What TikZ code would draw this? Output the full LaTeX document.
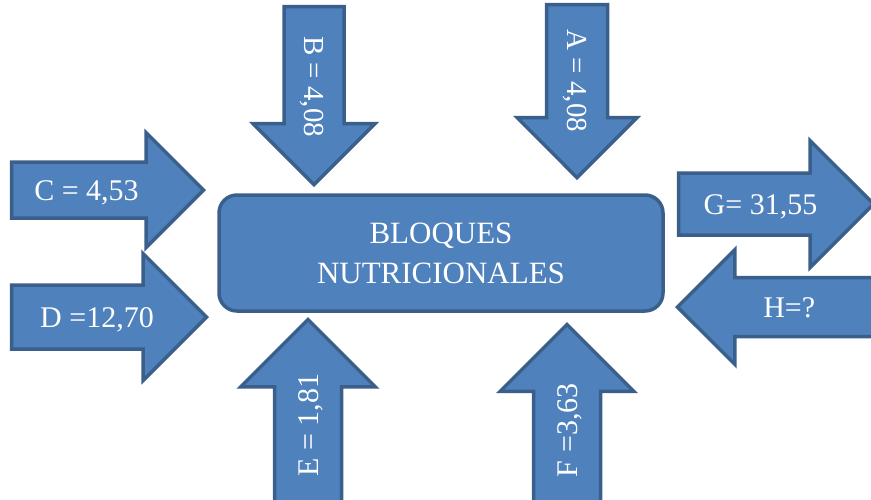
\documentclass[tikz,border=0pt]{standalone}
\usepackage{fontspec}
\setmainfont{Liberation Serif}
\usetikzlibrary{shapes.arrows}
\definecolor{azulrelleno}{HTML}{4F81BD}
\definecolor{azulborde}{HTML}{3A5F8B}

\begin{document}
\begin{tikzpicture}[
  x=1pt, y=-1pt,
  flecha/.style={single arrow, draw=azulborde, fill=azulrelleno, line width=3.5pt, text=white, inner sep=0pt, single arrow tip angle=90, font=\fontsize{30}{36}\selectfont},
  bloque/.style={rectangle, rounded corners=18pt, draw=azulborde, fill=azulrelleno, line width=3.5pt, text=white, minimum width=444pt, minimum height=116pt, align=center, font=\fontsize{31}{40}\selectfont}
]
\clip (0,0) rectangle (871,499);

% Centro
\node[bloque] (bloques) at (441,253) {BLOQUES\\NUTRICIONALES};

% Entradas izquierda
\node[flecha, minimum height=192pt, text height=36.25pt, text depth=16.25pt, single arrow head extend=29.5pt, anchor=tip] (c) at (206,190) {C = 4,53\hspace*{14pt}};
\node[flecha, minimum height=195pt, text height=40.25pt, text depth=20.25pt, single arrow head extend=31.5pt, anchor=tip] (d) at (209,317) {\hspace{8pt}D =12,70};

% Entradas arriba
\node[flecha, rotate=-90, minimum height=178pt, text height=38.25pt, text depth=18.25pt, single arrow head extend=31pt, anchor=tip, font=\fontsize{29}{36}\selectfont] (b) at (314,187) {\hspace{12pt}B = 4,08};
\node[flecha, rotate=-90, minimum height=173pt, text height=38.75pt, text depth=18.75pt, single arrow head extend=29.5pt, anchor=tip, font=\fontsize{29}{36}\selectfont] (a) at (577,180) {\hspace{10pt}A = 4,08};

% Entradas abajo
\node[flecha, rotate=90, minimum height=200pt, text height=41.75pt, text depth=21.75pt, single arrow head extend=34pt, anchor=tip] (e) at (308,317) {\hspace{22pt}E = 1,81};
\node[flecha, rotate=90, minimum height=200pt, text height=41.75pt, text depth=21.75pt, single arrow head extend=33.5pt, anchor=tip] (f) at (567,322) {\hspace{22pt}F =3,63};

% Salidas derecha
\node[flecha, minimum height=195pt, text height=39.25pt, text depth=19.25pt, single arrow head extend=32.5pt, anchor=tip] (g) at (876,204) {G= 31,55};
\node[flecha, shape border rotate=180, minimum height=220pt, text height=37.75pt, text depth=17.75pt, single arrow head extend=28pt, anchor=tip] (h) at (675,307) {H=?\hspace*{26pt}};
\end{tikzpicture}
\end{document}
